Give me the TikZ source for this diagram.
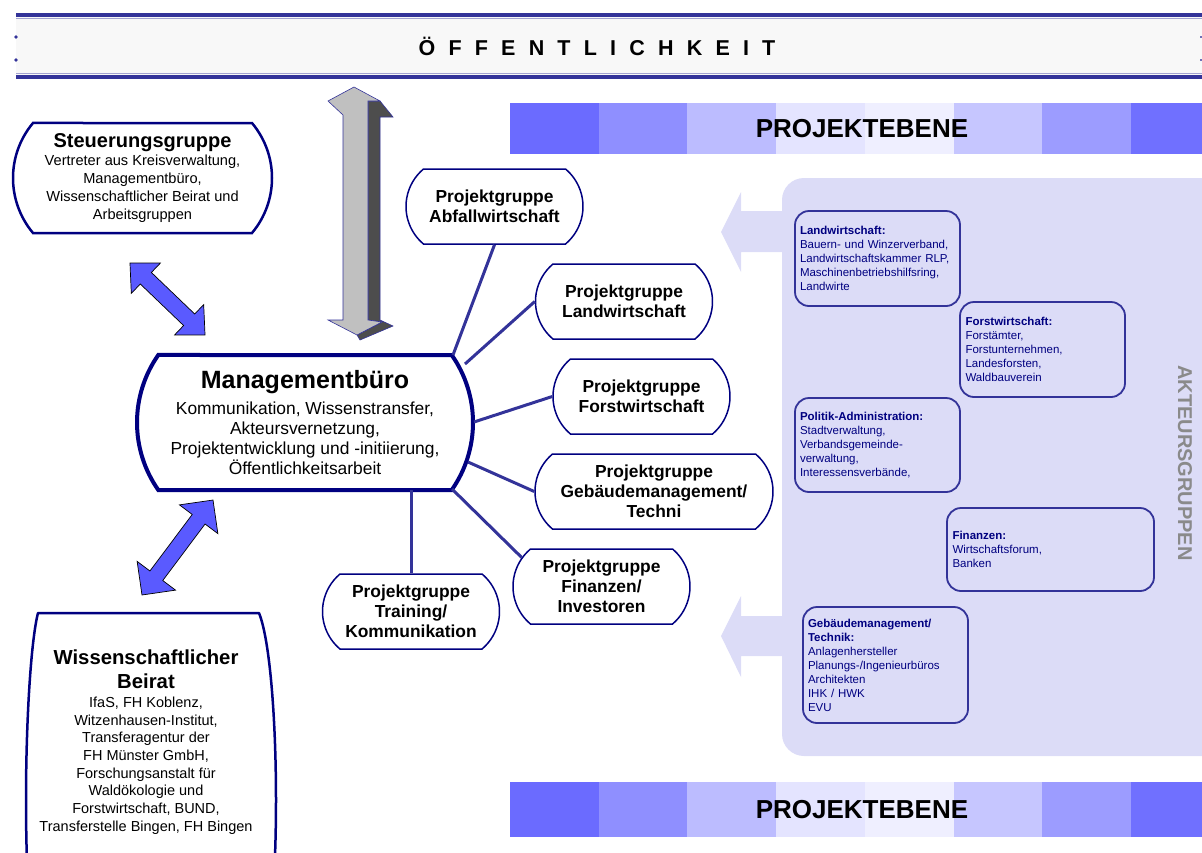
\documentclass[tikz,border=0pt]{standalone}
\usepackage{fontspec}
\setmainfont{Liberation Sans}
\usetikzlibrary{shapes.misc}
\definecolor{navy}{HTML}{000080}
\definecolor{linkblue}{HTML}{333399}
\definecolor{panelc}{HTML}{DCDCF7}
\definecolor{arrowblue}{HTML}{5A5AFF}
\definecolor{grayfront}{HTML}{C0C0C0}
\definecolor{grayside}{HTML}{4D4D4D}
\definecolor{bannerfill}{HTML}{F8F8F8}
\definecolor{bandA}{HTML}{6B6BFF}
\definecolor{bandB}{HTML}{8F8FFF}
\definecolor{bandC}{HTML}{BCBCFF}
\definecolor{bandD}{HTML}{E4E4FF}
\definecolor{bandE}{HTML}{EFEFFF}
\definecolor{bandF}{HTML}{C6C6FF}
\definecolor{bandG}{HTML}{9C9CFF}
\definecolor{bandH}{HTML}{7070FF}
\definecolor{akteurgray}{HTML}{8A8A8A}
\newcommand{\ttlsize}[2]{{\fontsize{#1}{#1}\selectfont\bfseries #2}}
\newcommand{\lsp}{\hspace{13.2pt}}
\begin{document}
\begin{tikzpicture}[x=1pt,y=-1pt,
  termbox/.style={rounded rectangle, draw=navy, fill=white, align=center, inner sep=0pt},
  pgbox/.style={termbox, line width=1.5pt, rounded rectangle arc length=100,
    minimum width=177pt, minimum height=75pt, font=\fontsize{17.4}{20}\selectfont\bfseries},
  akbox/.style={rectangle, rounded corners=14pt, draw=linkblue, line width=1.8pt,
    align=left, text=navy, inner xsep=5pt, inner ysep=0pt, font=\fontsize{11.5}{14}\selectfont},
  link/.style={draw=linkblue, line width=3pt},
  bluearrow/.style={fill=arrowblue, draw=black, line width=0.7pt, line join=miter},
  bandtext/.style={font=\fontsize{26}{30}\selectfont\bfseries, inner sep=0pt},
  sidearrow/.style={fill=panelc}
]
\path[use as bounding box] (0,0) rectangle (1202,852);
\clip (0,0) rectangle (1202,852);

% ---------- banner ----------
\fill[bannerfill] (16,15) rectangle (1202,77);
\draw[linkblue!45, line width=0.8pt] (16,18.5) -- (1202,18.5);
\draw[linkblue!45, line width=0.8pt] (16,73.5) -- (1202,73.5);
\draw[linkblue, line width=3.5pt] (16,15) -- (1202,15);
\draw[linkblue, line width=3.5pt] (16,77) -- (1202,77);
\fill[linkblue] (16,37) circle (1.8);
\fill[linkblue] (16,60) circle (1.8);
\fill[linkblue!70] (1200,35.5) rectangle (1202,37.5);
\fill[linkblue!70] (1200,58.5) rectangle (1202,60.5);
\node[font=\fontsize{21.5}{24}\selectfont\bfseries, inner sep=0pt] (oeff) at (597,46)
  {Ö\lsp F\lsp F\lsp E\lsp N\lsp T\lsp L\lsp I\lsp C\lsp H\lsp K\lsp E\lsp I\lsp T};

% ---------- PROJEKTEBENE bands ----------
\foreach \c [count=\i from 0] in {bandA,bandB,bandC,bandD,bandE,bandF,bandG,bandH} {
  \fill[\c] ({510+88.7*\i},103) rectangle ({510+88.7*(\i+1)},154);
  \fill[\c] ({510+88.7*\i},782) rectangle ({510+88.7*(\i+1)},837);
}
\node[bandtext] (pe1) at (862,128.5) {PROJEKTEBENE};
\node[bandtext] (pe2) at (862,809.5) {PROJEKTEBENE};

% ---------- Akteursgruppen panel ----------
\fill[panelc, rounded corners=22pt] (782,178) rectangle (1240,756);
\fill[sidearrow] (784,211) -- (741,211) -- (741,192) -- (721,232) -- (741,272) -- (741,252) -- (784,252) -- cycle;
\fill[sidearrow] (784,616) -- (741,616) -- (741,596) -- (721,636) -- (741,677) -- (741,656) -- (784,656) -- cycle;
\node[rotate=-90, text=akteurgray, font=\fontsize{20}{24}\selectfont\bfseries, inner sep=0pt] (akt) at (1185,463) {AKTEURSGRUPPEN};

\node[akbox, text width=155pt, minimum height=95pt] (ak1) at (877.5,258.5)
  {\textbf{Landwirtschaft:}\\Bauern- und Winzerverband,\\Landwirtschaftskammer RLP,\\Maschinenbetriebshilfsring,\\Landwirte};
\node[akbox, text width=154pt, inner xsep=5.5pt, minimum height=95pt] (ak2) at (1042.5,349.5)
  {\textbf{Forstwirtschaft:}\\Forstämter,\\Forstunternehmen,\\Landesforsten,\\Waldbauverein};
\node[akbox, text width=155pt, minimum height=94pt] (ak3) at (877.5,445)
  {\textbf{Politik-Administration:}\\Stadtverwaltung,\\Verbandsgemeinde-\\verwaltung,\\Interessensverbände,};
\node[akbox, text width=196pt, inner xsep=5.5pt, minimum height=83pt] (ak4) at (1050.5,549.5)
  {\textbf{Finanzen:}\\Wirtschaftsforum,\\Banken};
\node[akbox, text width=155pt, minimum height=116pt] (ak5) at (885.5,665)
  {\textbf{Gebäudemanagement/}\\\textbf{Technik:}\\Anlagenhersteller\\Planungs-/Ingenieurbüros\\Architekten\\IHK / HWK\\EVU};

% ---------- gray 3D double arrow ----------
\filldraw[fill=grayside, draw=linkblue, line width=0.6pt, line join=miter]
  (368,101) -- (380,101) -- (393,117) -- (380,117) -- (380,320) -- (393,326) -- (360,340) -- (357,335) -- (382,322) -- (368,320) -- cycle;
\filldraw[fill=grayfront, draw=linkblue, line width=0.6pt, line join=miter]
  (354,87) -- (380,101) -- (368,101) -- (368,320) -- (382,322) -- (357,335) -- (328,320) -- (343,320) -- (343,115) -- (328,101) -- cycle;

% ---------- blue double arrows ----------
\begin{scope}[shift={(167.5,299)}, rotate=-43.8]
  \draw[bluearrow] (-52,0) -- (-30,-21) -- (-30,-8) -- (30,-8) -- (30,-21) -- (52,0) -- (30,21) -- (30,8) -- (-30,8) -- (-30,21) -- cycle;
\end{scope}
\begin{scope}[shift={(177.5,547.5)}, rotate=53.2]
  \draw[bluearrow] (-59.3,0) -- (-35.3,-24) -- (-35.3,-8) -- (35.3,-8) -- (35.3,-24) -- (59.3,0) -- (35.3,24) -- (35.3,8) -- (-35.3,8) -- (-35.3,24) -- cycle;
\end{scope}

% ---------- main nodes ----------
\node[termbox, line width=2.5pt, rounded rectangle arc length=80, minimum width=259pt, minimum height=110pt,
      font=\fontsize{14.6}{18}\selectfont] (sg) at (142.5,178)
  {\ttlsize{20}{Steuerungsgruppe}\\Vertreter aus Kreisverwaltung,\\Managementbüro,\\Wissenschaftlicher Beirat und\\Arbeitsgruppen};

\node[termbox, line width=4pt, rounded rectangle arc length=70, minimum width=336pt, minimum height=135pt,
      font=\fontsize{17.4}{20}\selectfont] (mb) at (305,422.5)
  {\ttlsize{25}{Managementbüro}\\[6pt]Kommunikation, Wissenstransfer,\\Akteursvernetzung,\\Projektentwicklung und -initiierung,\\Öffentlichkeitsarbeit};

% Wissenschaftlicher Beirat (box continues below the page edge)
\coordinate (wbNW) at (38,613);
\coordinate (wbNE) at (259,613);
\filldraw[fill=white, draw=navy, line width=2.5pt, line join=round]
  (wbNW) -- (wbNE) .. controls (270,640) and (276,720) .. (276,800)
  .. controls (276,880) and (270,960) .. (259,987) -- (38,987)
  .. controls (31,960) and (26,880) .. (26,800)
  .. controls (26,720) and (31,640) .. (wbNW) -- cycle;
\node[align=center, inner sep=0pt, font=\fontsize{14.5}{17.7}\selectfont] (wb) at (146,742)
  {\ttlsize{20.3}{Wissenschaftlicher}\\[6.3pt]\ttlsize{20.3}{Beirat}\\[1.3pt]IfaS, FH Koblenz,\\Witzenhausen-Institut,\\Transferagentur der\\FH Münster GmbH,\\Forschungsanstalt für\\Waldökologie und\\Forstwirtschaft, BUND,\\Transferstelle Bingen, FH Bingen};

% ---------- Projektgruppen ----------
\node[pgbox] (pg1) at (494.5,206.5) {Projektgruppe\\Abfallwirtschaft};
\node[pgbox] (pg2) at (624,301.5) {Projektgruppe\\Landwirtschaft};
\node[pgbox] (pg3) at (641.5,396.5) {Projektgruppe\\Forstwirtschaft};
\node[pgbox, minimum width=238pt] (pg4) at (654,491.5) {Projektgruppe\\Gebäudemanagement/\\Techni};
\node[pgbox] (pg5) at (601.5,586.5) {Projektgruppe\\Finanzen/\\Investoren};
\node[pgbox] (pg6) at (411,611.5) {Projektgruppe\\Training/\\Kommunikation};

% ---------- connectors ----------
\coordinate (m1) at (453,355);
\coordinate (m2) at (465,364);
\coordinate (m3) at (474,422);
\coordinate (m4) at (468,462);
\coordinate (m5) at (452,489);
\coordinate (m6) at (411,490);
\draw[link] (m1) -- (pg1.south);
\draw[link] (m2) -- (pg2.west);
\draw[link] (m3) -- (pg3.west);
\draw[link] (m4) -- (pg4.west);
\draw[link] (m5) -- (pg5.160);
\draw[link] (m6) -- (pg6.north);
\end{tikzpicture}
\end{document}
